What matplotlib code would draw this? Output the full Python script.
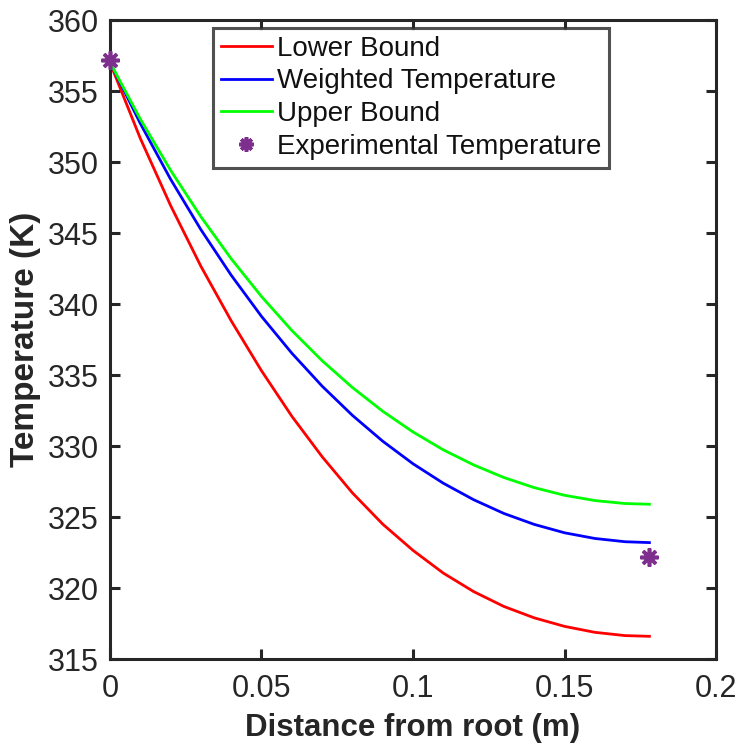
import matplotlib
matplotlib.use("Agg")
import matplotlib.pyplot as plt

# distance from root (m)
x = [0.0, 0.01, 0.02, 0.03, 0.04, 0.05, 0.06, 0.07, 0.08, 0.09,
     0.10, 0.11, 0.12, 0.13, 0.14, 0.15, 0.16, 0.17, 0.178]

lower_bound = [357.0, 351.67, 346.94, 342.66, 338.82, 335.3, 332.1, 329.25,
               326.7, 324.5, 322.65, 321.05, 319.75, 318.7, 317.9, 317.3,
               316.88, 316.65, 316.6]
weighted = [357.04, 352.72, 348.79, 345.24, 342.03, 339.13, 336.54, 334.22,
            332.16, 330.34, 328.75, 327.38, 326.22, 325.25, 324.48, 323.89,
            323.49, 323.26, 323.2]
upper_bound = [357.02, 353.03, 349.42, 346.15, 343.19, 340.53, 338.14, 336.01,
               334.12, 332.45, 330.99, 329.73, 328.67, 327.78, 327.07, 326.53,
               326.16, 325.95, 325.9]

exp_x = [0.0, 0.178]
exp_T = [357.2, 322.2]

xticks = [0, 0.05, 0.1, 0.15, 0.2]
xticklabels = ["0", "0.05", "0.1", "0.15", "0.2"]
yticks = [315, 320, 325, 330, 335, 340, 345, 350, 355, 360]

plt.rcParams['font.family'] = ['Liberation Sans', 'DejaVu Sans']

fig = plt.figure(figsize=(7.39, 7.44), dpi=100)
ax = fig.add_axes([0.1488, 0.1142, 0.8202, 0.8589])

lw = 2.0
ax.plot(x, lower_bound, color='#FF0000', lw=lw, label='Lower Bound')
ax.plot(x, weighted, color='#0000FF', lw=lw, label='Weighted Temperature')
ax.plot(x, upper_bound, color='#00FF00', lw=lw, label='Upper Bound')
ax.plot(exp_x, exp_T, linestyle='none', marker=(8, 2, 0), markersize=13,
        markeredgewidth=2.6, color='#7E2F8E', label='Experimental Temperature',
        clip_on=False, zorder=5)

ax.set_xlim(0, 0.2)
ax.set_ylim(315, 360)
ax.set_xticks(xticks)
ax.set_xticklabels(xticklabels)
ax.set_yticks(yticks)

tick_color = '#262626'
for s in ax.spines.values():
    s.set_linewidth(2.2)
    s.set_color(tick_color)
ax.tick_params(direction='in', length=7, width=2.2, top=True, right=True,
               labelsize=22, colors=tick_color)
ax.tick_params(axis='x', pad=11)
ax.tick_params(axis='y', pad=8)

ax.set_xlabel('Distance from root (m)', fontsize=22.5, fontweight='bold',
              color=tick_color, labelpad=6)
ax.set_ylabel('Temperature (K)', fontsize=24, fontweight='bold',
              color=tick_color, labelpad=5)

leg = ax.legend(loc='upper left', bbox_to_anchor=(0.170, 0.9875),
                borderaxespad=0, fontsize=20, frameon=True, fancybox=False,
                handlelength=1.83, handletextpad=0.18, labelspacing=0.24,
                borderpad=0.28, markerscale=0.8)
leg.get_frame().set_edgecolor(tick_color)
leg.get_frame().set_linewidth(2.2)
for t in leg.get_texts():
    t.set_color('#111111')

fig.savefig('out.png', dpi=100)
